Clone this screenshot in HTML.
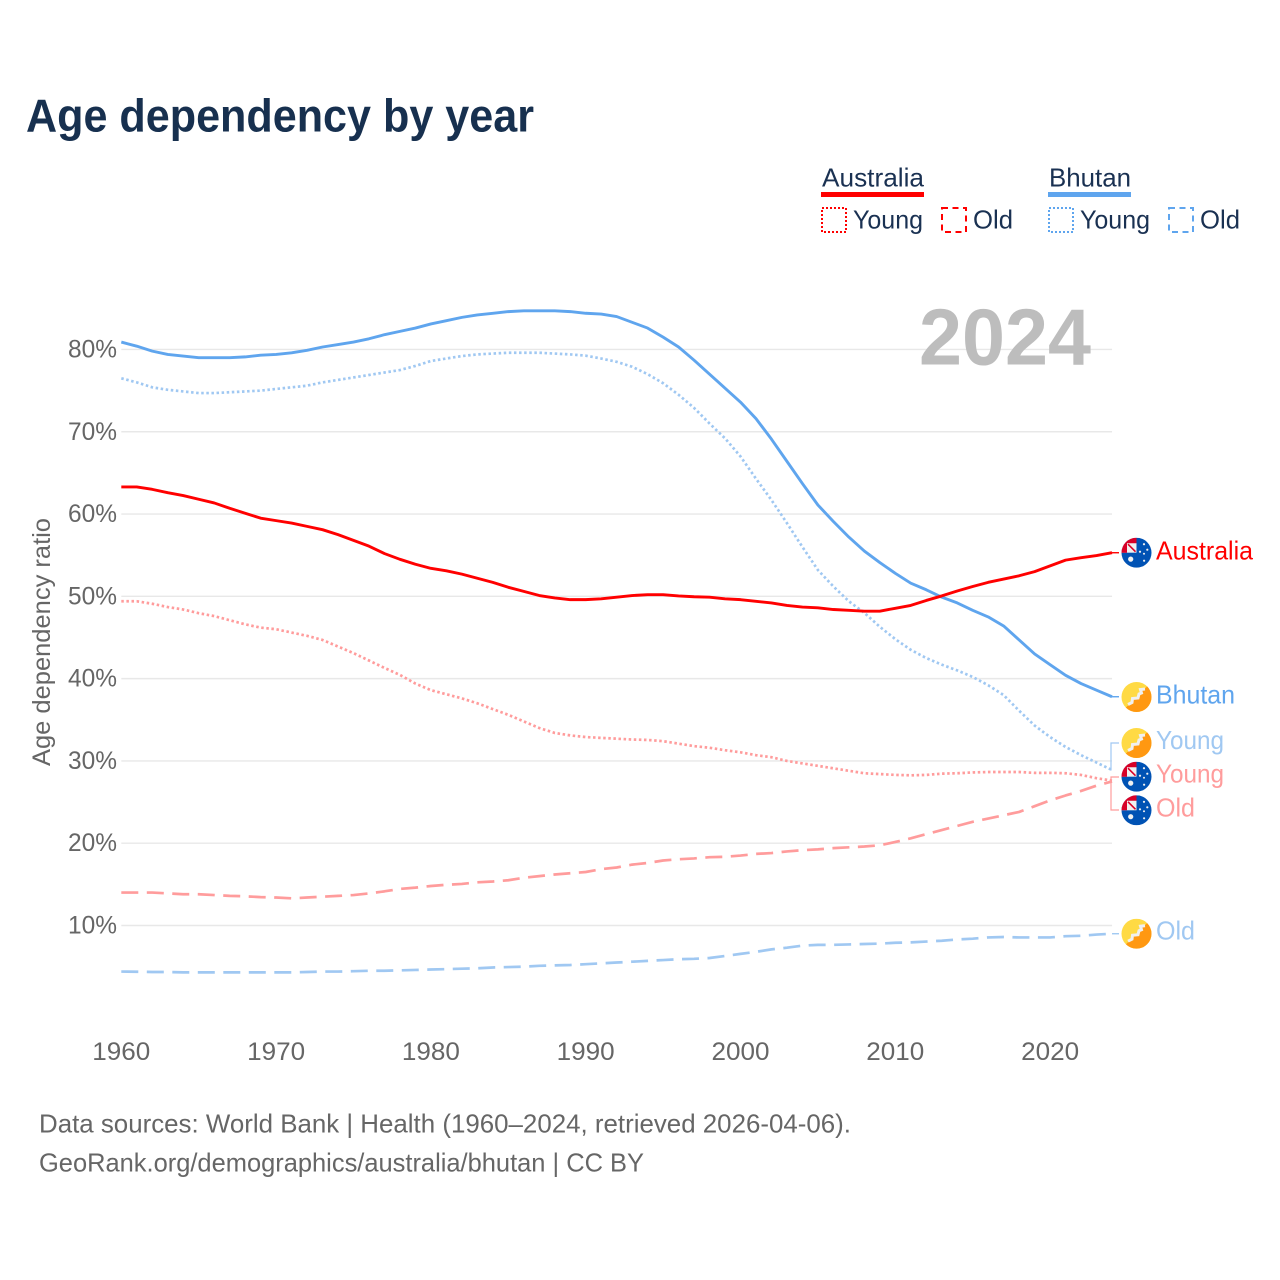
<!DOCTYPE html>
<html lang="en">
<head>
<meta charset="utf-8">
<title>Age dependency by year</title>
<style>
  html, body { margin: 0; padding: 0; background: #fff; }
  svg { display: block; font-family: "Liberation Sans", sans-serif; }
</style>
</head>
<body>
<svg id="chart" xmlns="http://www.w3.org/2000/svg" width="1280" height="1280" viewBox="0 0 1280 1280">
  <defs>
    <clipPath id="flag-clip"><circle cx="0" cy="0" r="15"/></clipPath>
    <g id="flag-au" clip-path="url(#flag-clip)">
      <rect x="-15" y="-15" width="30" height="30" fill="#0052b4"/>
      <rect x="-15" y="-15" width="15" height="15" fill="#f0f0f0"/>
      <path d="M-15,-15H0V-9.5H-9.5V0H-15Z" fill="#d80027"/>
      <path d="M-8.5,-8.5L-1,-1" stroke="#d80027" stroke-width="1.6"/>
      <circle cx="-5.8" cy="6.4" r="2.6" fill="#f0f0f0"/>
      <circle cx="3.5" cy="-1" r="1.1" fill="#f0f0f0"/>
      <circle cx="7.5" cy="-8.5" r="1.1" fill="#f0f0f0"/>
      <circle cx="10.8" cy="-3" r="1.1" fill="#f0f0f0"/>
      <circle cx="7.5" cy="1" r="1" fill="#f0f0f0"/>
      <circle cx="7.6" cy="8" r="1.1" fill="#f0f0f0"/>
    </g>
    <g id="flag-bt" clip-path="url(#flag-clip)">
      <rect x="-15" y="-15" width="30" height="30" fill="#ffda44"/>
      <path d="M15,-15V15H-15Z" fill="#ff9811"/>
      <path d="M-8.5,7.5L-4.5,5.5L-4,1.5L1.5,1L2.5,-3L5,-4L4,-7.5L8.5,-8" fill="none" stroke="#f0f0f0" stroke-width="3"/>
    </g>
  </defs>

  <text x="26" y="131.5" font-size="46" font-weight="700" fill="#17304f" textLength="508" lengthAdjust="spacingAndGlyphs">Age dependency by year</text>

  <g>
    <text x="822" y="186.5" font-size="26" fill="#1a3152" textLength="102" lengthAdjust="spacingAndGlyphs">Australia</text>
    <rect x="821" y="192" width="103" height="5" fill="#ff0000"/>
    <rect x="822" y="208" width="24" height="24" fill="none" stroke="#ff0000" stroke-width="2" stroke-dasharray="2 2"/>
    <text x="853" y="228.5" font-size="26" fill="#1a3152" textLength="70" lengthAdjust="spacingAndGlyphs">Young</text>
    <rect x="942" y="208" width="24" height="24" fill="none" stroke="#ff0000" stroke-width="2" stroke-dasharray="6 4.5"/>
    <text x="973" y="228.5" font-size="26" fill="#1a3152" textLength="40" lengthAdjust="spacingAndGlyphs">Old</text>

    <text x="1049" y="186.5" font-size="26" fill="#1a3152" textLength="82" lengthAdjust="spacingAndGlyphs">Bhutan</text>
    <rect x="1048" y="192" width="83" height="5" fill="#5fa5ee"/>
    <rect x="1049" y="208" width="24" height="24" fill="none" stroke="#5fa5ee" stroke-width="2" stroke-dasharray="2 2"/>
    <text x="1080" y="228.5" font-size="26" fill="#1a3152" textLength="70" lengthAdjust="spacingAndGlyphs">Young</text>
    <rect x="1169" y="208" width="24" height="24" fill="none" stroke="#5fa5ee" stroke-width="2" stroke-dasharray="6 4.5"/>
    <text x="1200" y="228.5" font-size="26" fill="#1a3152" textLength="40" lengthAdjust="spacingAndGlyphs">Old</text>
  </g>

  <g id="grid"></g>
  <g id="y-ticks"></g>
  <g id="x-ticks"></g>

  <text transform="translate(50,766) rotate(-90)" x="0" y="0" font-size="25" fill="#666666" textLength="248" lengthAdjust="spacingAndGlyphs">Age dependency ratio</text>

  <text x="919" y="364.5" font-size="80" font-weight="700" fill="#bdbdbd" textLength="172" lengthAdjust="spacingAndGlyphs">2024</text>

  <g id="series"></g>

  <g fill="none" stroke-width="1.2">
    <path d="M1111,770.5V743H1119" stroke="#a0c8f2"/>
    <path d="M1119,777H1111V810H1119" stroke="#ff9c9c"/>
  </g>

  <g>
    <use href="#flag-au" transform="translate(1136.5,552.7)"/>
    <text x="1156" y="559.5" font-size="26" fill="#ff0000" textLength="97" lengthAdjust="spacingAndGlyphs">Australia</text>
    <use href="#flag-bt" transform="translate(1136.5,697)"/>
    <text x="1156" y="703.5" font-size="26" fill="#5fa5ee" textLength="79" lengthAdjust="spacingAndGlyphs">Bhutan</text>
    <use href="#flag-bt" transform="translate(1136.5,743)"/>
    <text x="1156" y="749" font-size="26" fill="#a0c8f2" textLength="68" lengthAdjust="spacingAndGlyphs">Young</text>
    <use href="#flag-au" transform="translate(1136.5,776.7)"/>
    <text x="1156" y="782.5" font-size="26" fill="#ff9c9c" textLength="68" lengthAdjust="spacingAndGlyphs">Young</text>
    <use href="#flag-au" transform="translate(1136.5,810.3)"/>
    <text x="1156" y="816.5" font-size="26" fill="#ff9c9c" textLength="39" lengthAdjust="spacingAndGlyphs">Old</text>
    <use href="#flag-bt" transform="translate(1136.5,933.7)"/>
    <text x="1156" y="939.5" font-size="26" fill="#a0c8f2" textLength="39" lengthAdjust="spacingAndGlyphs">Old</text>
  </g>

  <text x="39" y="1132.5" font-size="26" fill="#666666" textLength="812" lengthAdjust="spacingAndGlyphs">Data sources: World Bank | Health (1960–2024, retrieved 2026-04-06).</text>
  <text x="39" y="1171.5" font-size="26" fill="#666666" textLength="605" lengthAdjust="spacingAndGlyphs">GeoRank.org/demographics/australia/bhutan | CC BY</text>
</svg>

<script>
const firstYear = 1960;
const xTickYears = [1960, 1970, 1980, 1990, 2000, 2010, 2020];
const yTickValues = [10, 20, 30, 40, 50, 60, 70, 80];

const bhutanTotal = [
  80.9,80.4,79.8,79.4,79.2,79.0,79.0,79.0,79.1,79.3,
  79.4,79.6,79.9,80.3,80.6,80.9,81.3,81.8,82.2,82.6,
  83.1,83.5,83.9,84.2,84.4,84.6,84.7,84.7,84.7,84.6,
  84.4,84.3,84.0,83.3,82.6,81.5,80.3,78.7,77.0,75.3,
  73.6,71.6,69.1,66.4,63.7,61.1,59.1,57.2,55.5,54.1,
  52.8,51.6,50.8,49.9,49.2,48.3,47.5,46.4,44.7,43.0,
  41.7,40.4,39.4,38.6,37.8];
const bhutanYoung = [
  76.5,76.0,75.4,75.1,74.9,74.7,74.7,74.8,74.9,75.0,
  75.2,75.4,75.6,76.0,76.3,76.6,76.9,77.2,77.5,78.0,
  78.6,78.9,79.2,79.4,79.5,79.6,79.6,79.6,79.5,79.4,
  79.25,78.9,78.5,77.9,77.0,75.9,74.5,72.9,71.0,69.2,
  67.0,64.3,61.7,58.9,56.0,53.2,51.2,49.4,48.0,46.3,
  44.8,43.5,42.5,41.7,41.0,40.2,39.2,38.0,36.1,34.3,
  32.9,31.7,30.7,29.8,28.9];
const bhutanOld = [
  4.4,4.38,4.35,4.35,4.3,4.3,4.3,4.3,4.3,4.3,
  4.3,4.3,4.35,4.4,4.4,4.45,4.5,4.5,4.55,4.6,
  4.65,4.7,4.75,4.8,4.9,4.95,5.0,5.1,5.15,5.2,
  5.3,5.4,5.5,5.6,5.7,5.8,5.9,5.95,6.05,6.3,
  6.55,6.8,7.1,7.3,7.55,7.65,7.65,7.7,7.75,7.8,
  7.9,7.95,8.05,8.15,8.3,8.4,8.55,8.6,8.55,8.55,
  8.55,8.7,8.75,8.9,9.0];
const australiaTotal = [
  63.3,63.3,63.0,62.6,62.25,61.8,61.35,60.7,60.1,59.5,
  59.2,58.9,58.5,58.1,57.5,56.8,56.1,55.2,54.5,53.9,
  53.4,53.1,52.7,52.2,51.7,51.1,50.6,50.1,49.8,49.6,
  49.6,49.7,49.9,50.1,50.2,50.2,50.05,49.95,49.9,49.7,
  49.6,49.4,49.2,48.9,48.7,48.6,48.4,48.3,48.2,48.2,
  48.55,48.9,49.5,50.05,50.65,51.2,51.7,52.1,52.5,53.0,
  53.7,54.4,54.7,54.95,55.3];
const australiaYoung = [
  49.4,49.4,49.1,48.7,48.4,47.95,47.6,47.1,46.6,46.2,
  46.0,45.6,45.2,44.7,43.9,43.1,42.2,41.3,40.45,39.4,
  38.6,38.1,37.6,37.0,36.3,35.6,34.8,34.0,33.4,33.1,
  32.9,32.8,32.7,32.6,32.55,32.4,32.1,31.8,31.6,31.3,
  31.05,30.7,30.45,30.0,29.7,29.4,29.1,28.8,28.5,28.4,
  28.3,28.25,28.3,28.45,28.5,28.6,28.65,28.65,28.65,28.55,
  28.55,28.5,28.3,27.9,27.6];
const australiaOld = [
  14.0,14.0,14.0,13.9,13.8,13.8,13.7,13.6,13.55,13.45,
  13.4,13.3,13.4,13.5,13.6,13.7,13.9,14.15,14.45,14.6,
  14.8,14.95,15.05,15.25,15.35,15.5,15.8,16.0,16.2,16.35,
  16.5,16.85,17.05,17.4,17.6,17.9,18.05,18.15,18.3,18.35,
  18.5,18.7,18.8,19.0,19.15,19.25,19.4,19.5,19.6,19.75,
  20.15,20.6,21.1,21.6,22.1,22.6,23.0,23.4,23.8,24.5,
  25.2,25.8,26.35,27.0,27.5];

const NS = 'http://www.w3.org/2000/svg';
const xScale = year => 121.3 + (year - 1960) * 15.48;
const yScale = value => 925.5 - (value - 10) * 8.229;

const gridGroup = document.getElementById('grid');
const yTickGroup = document.getElementById('y-ticks');
const xTickGroup = document.getElementById('x-ticks');
const seriesGroup = document.getElementById('series');

yTickValues.forEach(value => {
  const line = document.createElementNS(NS, 'line');
  
  
  line.setAttribute('x1', xScale(1960));
  line.setAttribute('x2', xScale(2024));
  line.setAttribute('y1', yScale(value));
  line.setAttribute('y2', yScale(value));
  line.setAttribute('stroke', '#e8e8e8');
  line.setAttribute('stroke-width', '1.4');
  gridGroup.appendChild(line);

  const label = document.createElementNS(NS, 'text');
  
  
  label.setAttribute('x', 117);
  label.setAttribute('y', yScale(value) + 8);
  label.setAttribute('text-anchor', 'end');
  label.setAttribute('font-size', '25');
  label.setAttribute('fill', '#666666');
  label.setAttribute('textLength', '49');
  label.setAttribute('lengthAdjust', 'spacingAndGlyphs');
  label.textContent = value + '%';
  yTickGroup.appendChild(label);
});

xTickYears.forEach(year => {
  const label = document.createElementNS(NS, 'text');
  
  
  label.setAttribute('x', xScale(year));
  label.setAttribute('y', 1060);
  label.setAttribute('text-anchor', 'middle');
  label.setAttribute('font-size', '25');
  label.setAttribute('fill', '#666666');
  label.setAttribute('textLength', '58');
  label.setAttribute('lengthAdjust', 'spacingAndGlyphs');
  label.textContent = year;
  xTickGroup.appendChild(label);
});

function drawSeries(values, name, color, width, dash) {
  const pts = values.map((v, i) => xScale(firstYear + i).toFixed(2) + ',' + yScale(v).toFixed(2));
  const line = document.createElementNS(NS, 'polyline');
  
  
  line.setAttribute('points', pts.join(' '));
  line.setAttribute('fill', 'none');
  line.setAttribute('stroke', color);
  line.setAttribute('stroke-width', width);
  line.setAttribute('stroke-linejoin', 'round');
  if (dash) line.setAttribute('stroke-dasharray', dash);
  seriesGroup.appendChild(line);
}

function drawLeader(values, name, color, width, endY) {
  const lastIndex = values.length - 1;
  const leader = document.createElementNS(NS, 'line');
  
  
  leader.setAttribute('x1', xScale(firstYear + lastIndex));
  leader.setAttribute('y1', yScale(values[lastIndex]));
  leader.setAttribute('x2', 1119);
  leader.setAttribute('y2', endY === null ? yScale(values[lastIndex]) : endY);
  leader.setAttribute('stroke', color);
  leader.setAttribute('stroke-width', width);
  seriesGroup.appendChild(leader);
}

drawSeries(bhutanOld, 'bhutan-old-line', '#a0c8f2', 2.7, '17 8.5');
drawSeries(australiaOld, 'australia-old-line', '#ff9c9c', 2.7, '17 8.5');
drawSeries(australiaYoung, 'australia-young-line', '#ff9c9c', 2.7, '2.5 2.6');
drawSeries(bhutanYoung, 'bhutan-young-line', '#a0c8f2', 2.7, '2.5 2.6');
drawSeries(bhutanTotal, 'bhutan-total-line', '#5fa5ee', 2.9, null);
drawSeries(australiaTotal, 'australia-total-line', '#ff0000', 2.9, null);

drawLeader(australiaTotal, 'australia-leader', '#ff0000', 1.4, null);
drawLeader(bhutanTotal, 'bhutan-leader', '#5fa5ee', 1.4, null);
drawLeader(bhutanOld, 'bhutan-old-leader', '#a0c8f2', 1.4, null);
</script>
</body>
</html>
